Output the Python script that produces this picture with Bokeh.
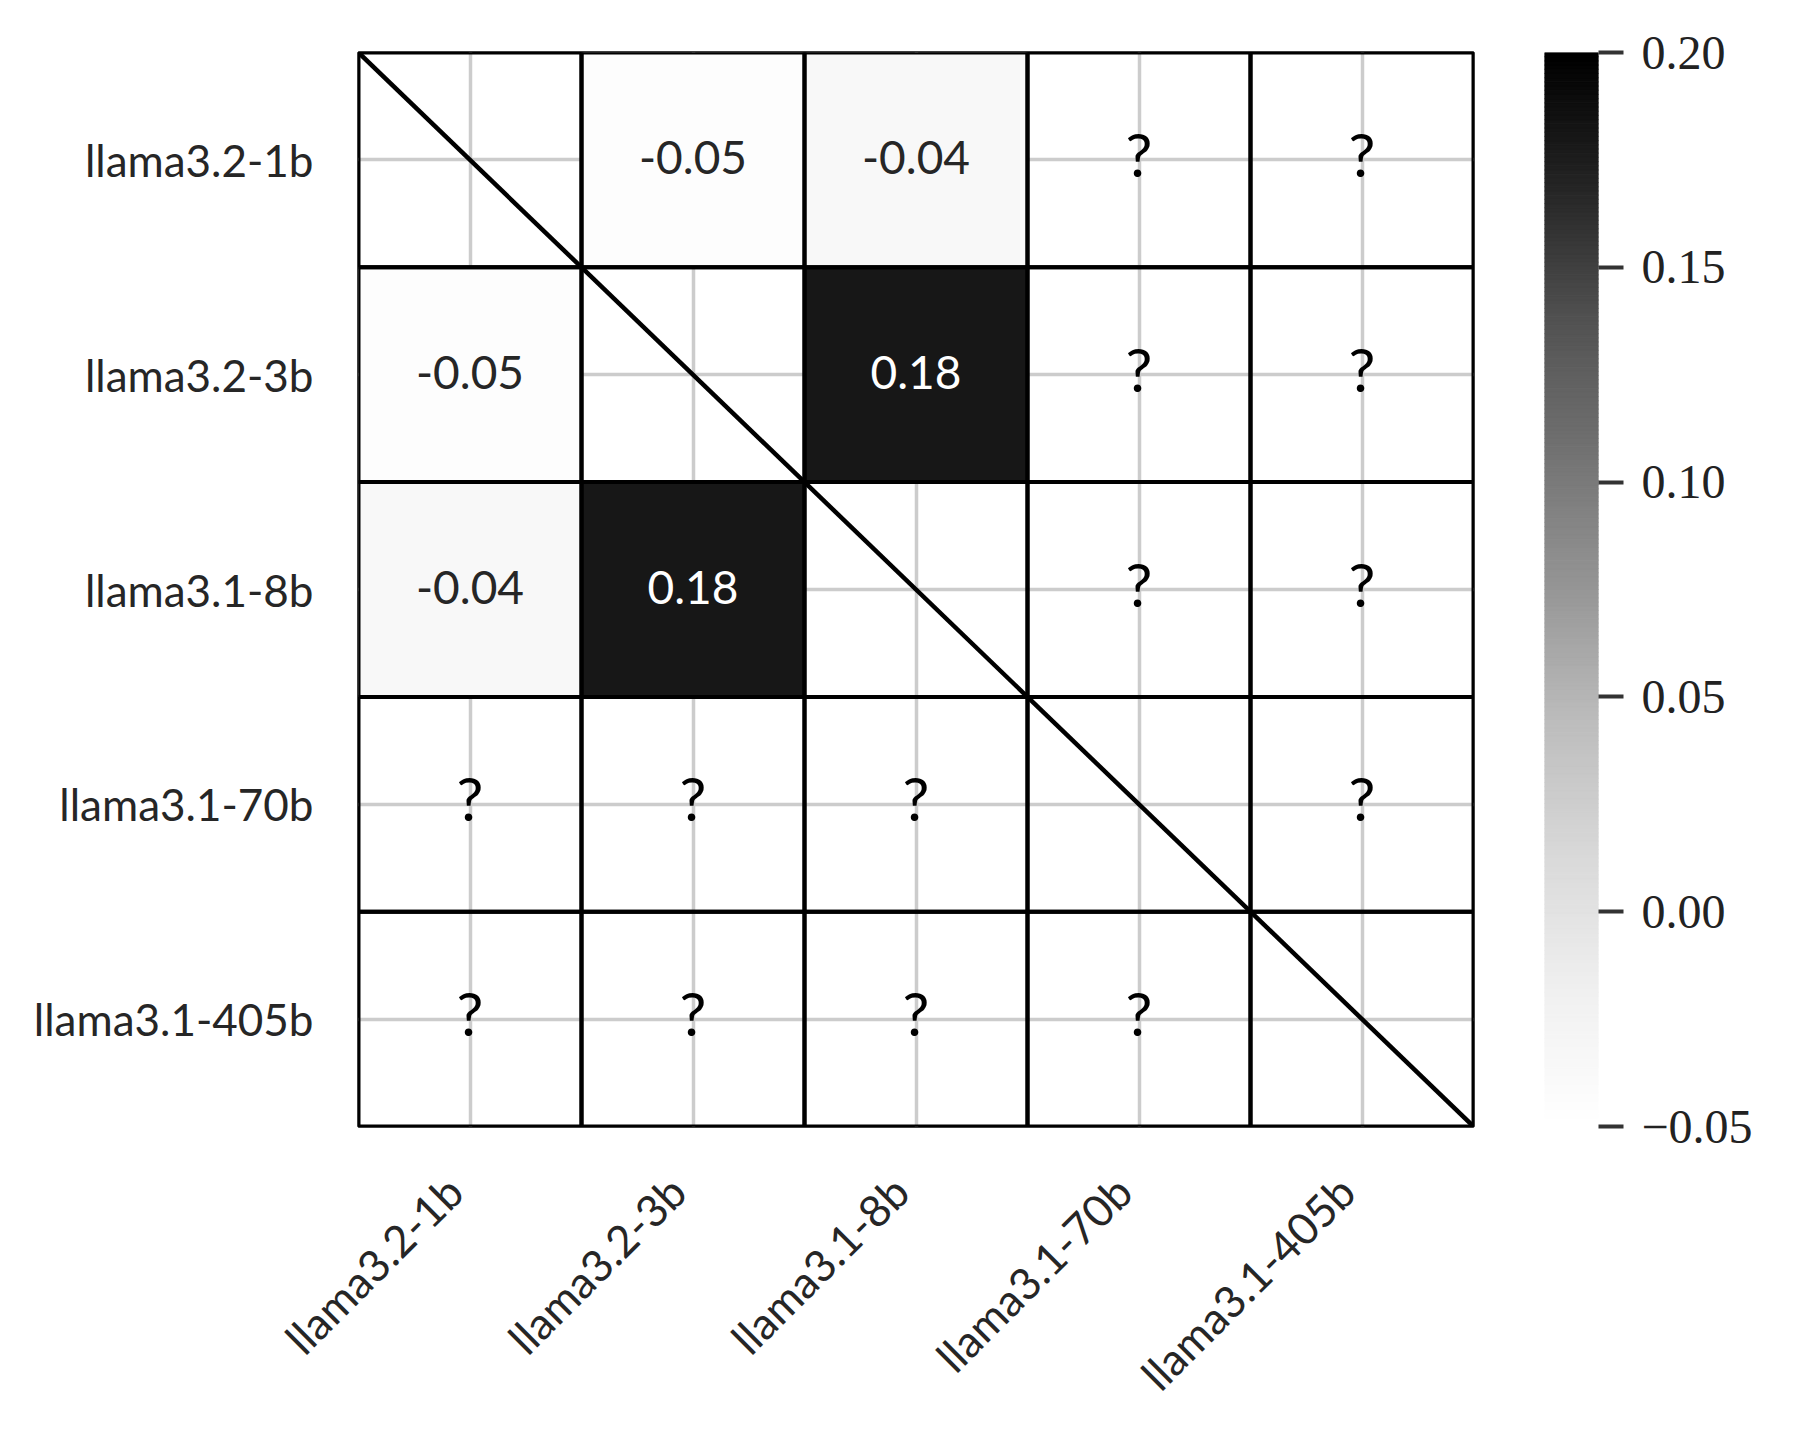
import numpy as np
from bokeh.plotting import figure
from bokeh.models import Range1d, FixedTicker, LinearColorMapper, ColumnDataSource, CustomJSTickFormatter
from bokeh.layouts import row
from bokeh.embed import file_html
from bokeh.resources import INLINE
from bokeh.core.properties import value

# ---------------- data ----------------
models = ["llama3.2-1b", "llama3.2-3b", "llama3.1-8b", "llama3.1-70b", "llama3.1-405b"]

# measured pairwise values (row index, column index, value)
known_rows = [0, 0, 1, 1, 2, 2]
known_cols = [1, 2, 0, 2, 0, 1]
known_vals = [-0.046, -0.036, -0.046, 0.18, -0.036, 0.18]

# pairs without a value (shown as "?")
unknown_rows = [0, 0, 1, 1, 2, 2, 3, 3, 3, 3, 4, 4, 4, 4]
unknown_cols = [3, 4, 3, 4, 3, 4, 0, 1, 2, 4, 0, 1, 2, 3]

vmin, vmax = -0.05, 0.20
cbar_ticks = [-0.05, 0.00, 0.05, 0.10, 0.15, 0.20]

# ---------------- colormap (matplotlib "Greys") ----------------
greys_anchor = ["#ffffff", "#f0f0f0", "#d9d9d9", "#bdbdbd", "#969696",
                "#737373", "#525252", "#252525", "#000000"]
anc = np.array([int(c[1:3], 16) for c in greys_anchor], dtype=float)
pos = np.linspace(0, 1, len(anc))
lv = np.interp(np.linspace(0, 1, 256), pos, anc)
palette = ["#" + ("%02x" % int(round(g))) * 3 for g in lv]
mapper = LinearColorMapper(palette=palette, low=vmin, high=vmax)

def grey_level(v):
    t = (v - vmin) / (vmax - vmin)
    return np.interp(t, pos, anc)

n = len(models)
TEXT = "#262626"
SANS = "Lato"

known_src = ColumnDataSource(dict(
    x=[c + 0.5 for c in known_cols],
    y=[r + 0.5 for r in known_rows],
    v=known_vals,
    label=["%.2f" % v for v in known_vals],
    tcolor=["white" if grey_level(v) < 110 else TEXT for v in known_vals],
))
unk_src = ColumnDataSource(dict(
    x=[c + 0.5 for c in unknown_cols],
    y=[r + 0.5 for r in unknown_rows],
    label=["?"] * len(unknown_rows),
))
all_src = ColumnDataSource(dict(
    x=[c + 0.5 for r in range(n) for c in range(n)],
    y=[r + 0.5 for r in range(n) for c in range(n)],
))

# ---------------- heatmap ----------------
p = figure(width=1483, height=1423,
           x_range=Range1d(0, n), y_range=Range1d(n, 0),
           min_border_left=358, min_border_right=10,
           min_border_top=52, min_border_bottom=297,
           toolbar_location=None, output_backend="svg")
p.background_fill_color = "white"
p.border_fill_color = "white"
p.outline_line_color = "black"
p.outline_line_width = 2.5

ticks = [i + 0.5 for i in range(n)]
# rotated x labels: matplotlib aligns the label's bounding box right edge to the tick
xlab_ticks = [t - 0.07 for t in ticks]
p.xaxis[0].ticker = FixedTicker(ticks=xlab_ticks)
p.xaxis[0].major_label_overrides = {t: m for t, m in zip(xlab_ticks, models)}
p.xgrid[0].ticker = FixedTicker(ticks=ticks)
p.yaxis[0].ticker = FixedTicker(ticks=ticks)
p.yaxis[0].major_label_overrides = {t: m for t, m in zip(ticks, models)}
p.ygrid[0].ticker = FixedTicker(ticks=ticks)
for ax in (p.xaxis[0], p.yaxis[0]):
    ax.axis_line_color = None
    ax.major_tick_line_color = None
    ax.minor_tick_line_color = None
    ax.major_label_text_font = SANS
    ax.major_label_text_font_size = "44px"
    ax.major_label_text_color = TEXT
p.yaxis.major_label_standoff = 39
p.xaxis.major_label_standoff = 51
p.xaxis.major_label_orientation = np.pi / 4

p.grid.grid_line_color = "#cccccc"
p.grid.grid_line_width = 3.5

p.rect(x="x", y="y", width=1, height=1, source=known_src,
       fill_color={"field": "v", "transform": mapper}, line_color=None)
p.rect(x="x", y="y", width=1, height=1, source=all_src,
       fill_alpha=0, line_color="black", line_width=4)
p.line(x=[0, n], y=[0, n], line_color="black", line_width=4.5)

p.text(x="x", y="y", text="label", source=known_src,
       text_align="center", text_baseline="middle", y_offset=-2,
       text_font=value(SANS), text_font_size="46px", text_color="tcolor")
p.text(x="x", y="y", text="label", source=unk_src,
       text_align="center", text_baseline="middle", y_offset=-6,
       text_font=value(SANS), text_font_size="60px", text_color="black")

# ---------------- colorbar ----------------
cb = figure(width=307, height=1423,
            x_range=Range1d(0, 1), y_range=Range1d(vmin, vmax),
            x_axis_location=None, y_axis_location="right",
            min_border_left=61, min_border_right=192,
            min_border_top=52, min_border_bottom=297,
            toolbar_location=None, output_backend="svg")
cb.outline_line_color = None
cb.grid.visible = False
cb.background_fill_color = "white"
cb.border_fill_color = "white"
edges = np.linspace(vmin, vmax, len(palette) + 1)
cb.quad(left=0, right=1, bottom=edges[:-1], top=edges[1:],
        fill_color=palette, line_color=palette, line_width=1)
ya = cb.yaxis[0]
ya.ticker = FixedTicker(ticks=cbar_ticks)
ya.formatter = CustomJSTickFormatter(code="return (tick < -1e-9 ? '\u2212' : '') + Math.abs(tick).toFixed(2);")
ya.axis_line_color = None
ya.major_tick_in = 0
ya.major_tick_out = 25
ya.major_tick_line_width = 4
ya.major_tick_line_color = "#333333"
ya.minor_tick_line_color = None
ya.major_label_standoff = 18
ya.major_label_text_font = "Liberation Serif"
ya.major_label_text_font_size = "48px"
ya.major_label_text_color = "#222222"

layout = row(p, cb)
open("out.html", "w").write(file_html(layout, INLINE))
